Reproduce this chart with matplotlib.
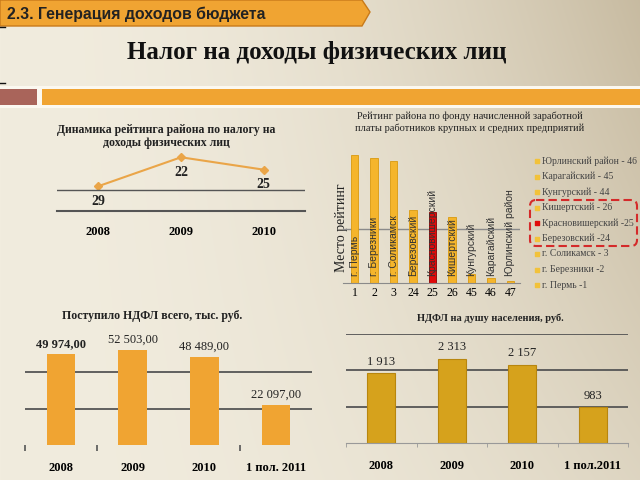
import matplotlib.pyplot as plt
import numpy as np
from matplotlib.patches import Polygon, Rectangle, FancyBboxPatch

W, H = 640, 480
SERIF = 'Liberation Serif'
SANS = 'Liberation Sans'

# --- data ---
rating_years = ['2008', '2009', '2010']
rating = [29, 22, 25]

districts = ['г. Пермь', 'г. Березники', 'г. Соликамск', 'Березовский',
             'Красновишерский', 'Кишертский', 'Кунгурский', 'Карагайский',
             'Юрлинский район']
places = ['1', '2', '3', '24', '25', '26', '45', '46', '47']
fund_score = [47, 46, 45, 27, 26, 24.3, 3.3, 1.8, 0.7]
legend_labels = ['Юрлинский район - 46', 'Карагайский - 45', 'Кунгурский - 44',
                 'Кишертский - 26', 'Красновишерский -25', 'Березовский -24',
                 'г. Соликамск - 3', 'г. Березники -2', 'г. Пермь -1']

periods = ['2008', '2009', '2010', '1 пол. 2011']
ndfl_total = [49974.00, 52503.00, 48489.00, 22097.00]

periods_pc = ['2008', '2009', '2010', '1 пол.2011']
ndfl_per_capita = [1913, 2313, 2157, 983]

ORANGE = '#f0a432'
YELLOW = '#f5b52c'
GOLD = '#d6a21c'
RED = '#e00a0a'
GRID = '#555555'

fig = plt.figure(figsize=(6.4, 4.8), dpi=100)


def px_axes(x0, y0, x1, y1):
    a = fig.add_axes([x0 / W, 1 - y1 / H, (x1 - x0) / W, (y1 - y0) / H])
    a.set_facecolor('none')
    return a


# background + decorations in pixel coordinates
bg = fig.add_axes([0, 0, 1, 1])
yy, xx = np.mgrid[0:H, 0:W]
f = (xx / (W - 1)) ** 2 * (0.85 - 0.45 * yy / (H - 1))
light = np.array([241, 236, 222]) / 255
dark = np.array([192, 178, 150]) / 255
img = light * (1 - f[..., None]) + dark * f[..., None]
bg.imshow(img, extent=[0, W, H, 0], aspect='auto', zorder=0)
bg.set_xlim(0, W)
bg.set_ylim(H, 0)
bg.axis('off')

bg.add_patch(Polygon([(0, 0), (362, 0), (370, 12), (362, 26), (0, 26)],
                     closed=True, fc=ORANGE, ec='#c87a1a', lw=1, zorder=2))
bg.text(7, 14, '2.3. Генерация доходов бюджета', family=SANS, fontweight='bold',
        fontsize=11.4, color='#222222', va='center', ha='left', zorder=3)
bg.plot([0, 5], [27, 27], color='#111111', lw=1, zorder=3)
bg.plot([0, 5], [83, 83], color='#111111', lw=1, zorder=3)
bg.text(317, 53, 'Налог на доходы физических лиц', family=SERIF, fontweight='bold',
        fontsize=18, color='#111111', va='center', ha='center', zorder=3)
bg.add_patch(Rectangle((0, 86), W, 22, fc='#fbf8f0', ec='none', zorder=1))
bg.add_patch(Rectangle((0, 89), 37, 16, fc='#a9645a', ec='none', zorder=2))
bg.add_patch(Rectangle((42, 89), W - 42, 16, fc=ORANGE, ec='none', zorder=2))

# chart titles
bg.text(166, 130, 'Динамика рейтинга района по налогу на', family=SERIF,
        fontweight='bold', fontsize=8.5, ha='center', va='center', color='#222222')
bg.text(166, 143, 'доходы физических лиц', family=SERIF,
        fontweight='bold', fontsize=8.5, ha='center', va='center', color='#222222')
bg.text(470, 116, 'Рейтинг района по фонду начисленной заработной', family=SERIF,
        fontsize=7.5, ha='center', va='center', color='#222222')
bg.text(470, 128, 'платы работников крупных и средних предприятий', family=SERIF,
        fontsize=7.5, ha='center', va='center', color='#222222')
bg.text(152, 316, 'Поступило НДФЛ всего, тыс. руб.', family=SERIF,
        fontweight='bold', fontsize=8.5, ha='center', va='center', color='#222222')
bg.text(490, 318, 'НДФЛ на душу населения, руб.', family=SERIF,
        fontweight='bold', fontsize=7.5, ha='center', va='center', color='#222222')

# legend of rating chart
for i, lab in enumerate(legend_labels):
    y = 161 + i * 15.5
    c = RED if lab.startswith('Красновишерский') else '#f2c23a'
    bg.scatter([537], [y], marker='s', s=12, color=c, zorder=3)
    bg.text(542, y, lab, family=SERIF, fontsize=7, color='#444444',
            va='center', ha='left', zorder=3)
bg.add_patch(FancyBboxPatch((530, 200), 107, 46,
                            boxstyle='round,pad=0,rounding_size=6',
                            fc='none', ec='#d42a2a', lw=1.5, ls=(0, (4, 2)), zorder=3))

# --- chart 1: rating dynamics ---
ax1 = px_axes(57, 149, 305, 211)
x1 = np.arange(len(rating))
ax1.plot(x1, rating, color='#eaa548', lw=1.5, marker='D', ms=4)
ax1.set_xlim(-0.5, 2.5)
ax1.set_ylim(35, 20)
ax1.axhline(30, color=GRID, lw=1)
for s in ['top', 'left', 'right']:
    ax1.spines[s].set_visible(False)
ax1.spines['bottom'].set_color(GRID)
ax1.spines['bottom'].set_linewidth(1.5)
ax1.set_yticks([])
ax1.set_xticks(x1, rating_years)
ax1.tick_params(axis='x', length=0, pad=11)
for lab in ax1.get_xticklabels():
    lab.set_family(SERIF)
    lab.set_fontweight('bold')
    lab.set_fontsize(9)
for i, v in enumerate(rating):
    ax1.annotate(str(v), (i, v), xytext=(0, -11), textcoords='offset points',
                 ha='center', va='center', family=SERIF, fontweight='bold',
                 fontsize=10, color='#222222')

# --- chart 2: rating by wage fund ---
ax2 = px_axes(343, 147, 520, 283)
x2 = np.arange(len(places))
colors2 = [RED if d == 'Красновишерский' else YELLOW for d in districts]
ax2.bar(x2, fund_score, width=0.38, color=colors2,
        edgecolor=['#8a0000' if c == RED else '#d99a10' for c in colors2], lw=0.6)
ax2.set_xlim(-0.6, 8.5)
ax2.set_ylim(0, 50)
ax2.axhline(20, color='#8a8a8a', lw=1, zorder=0)
for s in ['top', 'left', 'right']:
    ax2.spines[s].set_visible(False)
ax2.spines['bottom'].set_color('#8a8a8a')
ax2.set_yticks([])
ax2.set_xticks(x2, places)
ax2.tick_params(axis='x', length=0, pad=3)
for lab in ax2.get_xticklabels():
    lab.set_family(SERIF)
    lab.set_fontsize(8.5)
for i, d in enumerate(districts):
    ax2.text(i, 2.4, d, rotation=90, ha='center', va='bottom', family=SANS,
             fontsize=7.5, color='#333333')
bg.text(342, 228, 'Место рейтинг', rotation=90, family=SERIF, fontsize=10,
        ha='center', va='center', color='#222222', zorder=3)

# --- chart 3: total NDFL ---
ax3 = px_axes(25, 336, 312, 445)
x3 = np.arange(len(periods))
ax3.bar(x3, ndfl_total, width=0.4, color=ORANGE, zorder=2)
ax3.set_xlim(-0.5, 3.5)
ax3.set_ylim(0, 60000)
for s in ax3.spines.values():
    s.set_visible(False)
ax3.set_yticks([20000, 40000])
ax3.set_yticklabels([])
ax3.tick_params(axis='y', length=0)
ax3.grid(axis='y', color=GRID, lw=1.3, zorder=1)
ax3.set_xticks(x3, periods)
ax3.set_xticks([-0.5, 0.5, 2.5], minor=True)
ax3.tick_params(axis='x', which='major', length=0, pad=12)
ax3.tick_params(axis='x', which='minor', length=4, color=GRID, width=1.2)
for lab in ax3.get_xticklabels():
    lab.set_family(SERIF)
    lab.set_fontweight('bold')
    lab.set_fontsize(9)
for i, v in enumerate(ndfl_total):
    s = f'{v:,.2f}'.replace(',', ' ').replace('.', ',')
    ax3.annotate(s, (i, v), xytext=(0, 3), textcoords='offset points',
                 ha='center', va='bottom', family=SERIF, fontsize=9,
                 fontweight='bold' if i == 0 else 'normal', color='#222222')

# --- chart 4: NDFL per capita ---
ax4 = px_axes(346, 334, 628, 443)
x4 = np.arange(len(periods_pc))
ax4.bar(x4, ndfl_per_capita, width=0.4, color=GOLD, edgecolor='#b8860e', lw=0.8, zorder=2)
ax4.set_xlim(-0.5, 3.5)
ax4.set_ylim(0, 3000)
for s in ['top', 'left', 'right']:
    ax4.spines[s].set_visible(False)
ax4.spines['bottom'].set_color('#999999')
ax4.set_yticks([1000, 2000, 3000])
ax4.set_yticklabels([])
ax4.tick_params(axis='y', length=0)
ax4.grid(axis='y', color=GRID, lw=1.3, zorder=1)
ax4.set_xticks(x4, periods_pc)
ax4.set_xticks([-0.5, 0.5, 1.5, 2.5, 3.5], minor=True)
ax4.tick_params(axis='x', which='major', length=0, pad=12)
ax4.tick_params(axis='x', which='minor', length=3, color='#999999')
for lab in ax4.get_xticklabels():
    lab.set_family(SERIF)
    lab.set_fontweight('bold')
    lab.set_fontsize(9)
for i, v in enumerate(ndfl_per_capita):
    s = f'{v:,}'.replace(',', ' ')
    ax4.annotate(s, (i, v), xytext=(0, 4), textcoords='offset points',
                 ha='center', va='bottom', family=SERIF, fontsize=9, color='#222222')

fig.savefig('out.png', dpi=100)
